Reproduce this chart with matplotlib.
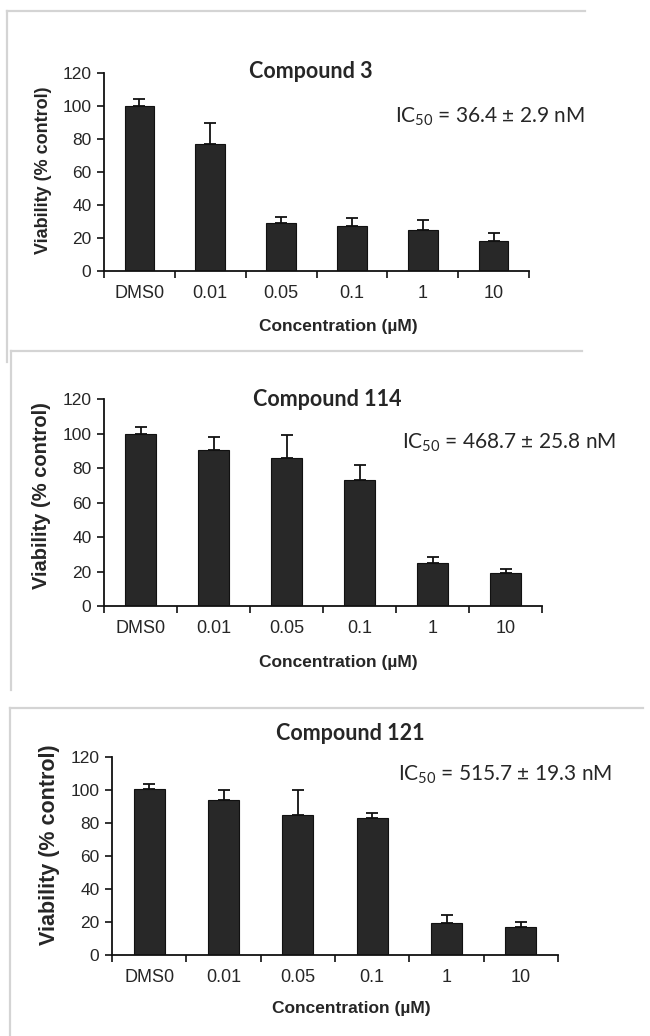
import matplotlib
matplotlib.use("Agg")
import matplotlib.pyplot as plt
from matplotlib.lines import Line2D

W, H = 650, 1036

categories = ["DMS0", "0.01", "0.05", "0.1", "1", "10"]

c3_mean = [100, 76.8, 29, 27, 24.8, 18.4]
c3_err = [4.2, 13.1, 4, 5, 6.1, 4.4]

c114_mean = [100, 90.6, 86, 73, 24.9, 19]
c114_err = [4, 7.2, 13.2, 8.8, 3.5, 2.3]

c121_mean = [100.5, 93.7, 85, 83, 19.6, 17]
c121_err = [3.3, 6.3, 15, 3, 4.8, 3]

titles = ["Compound 3", "Compound 114", "Compound 121"]
ic50_texts = [
    "IC$_{50}$ = 36.4 ± 2.9 nM",
    "IC$_{50}$ = 468.7 ± 25.8 nM",
    "IC$_{50}$ = 515.7 ± 19.3 nM",
]

plt.rcParams["font.family"] = ["Liberation Sans", "DejaVu Sans"]
plt.rcParams["mathtext.fontset"] = "custom"
plt.rcParams["mathtext.rm"] = "Lato"
plt.rcParams["mathtext.it"] = "Lato"
plt.rcParams["mathtext.bf"] = "Lato:bold"

fig = plt.figure(figsize=(W / 100, H / 100), dpi=100)


def fx(x):
    return x / W


def fy(y):
    return 1 - y / H


def px_axes(left, right, top, bottom):
    return fig.add_axes([fx(left), fy(bottom), (right - left) / W, (bottom - top) / H])


# light grey frames around each panel
frame_col = "#d4d4d4"
for (x0, x1, y0, y1) in [(7, 585, 11, 362), (11, 582, 351, 690), (10, 643, 708, 1036)]:
    fig.add_artist(Line2D([fx(x0), fx(x1)], [fy(y0), fy(y0)], color=frame_col, lw=1.6))
    fig.add_artist(Line2D([fx(x0), fx(x0)], [fy(y0), fy(y1)], color=frame_col, lw=1.6))

panels = [
    dict(box=(104, 529, 73, 271), mean=c3_mean, err=c3_err,
         title_xy=(311, 72), ic_xy=(395, 117),
         xl_xy=(338, 327), yl_xy=(43, 170), yl_fs=13),
    dict(box=(104, 542, 399, 606), mean=c114_mean, err=c114_err,
         title_xy=(327, 400), ic_xy=(402, 443),
         xl_xy=(338, 662), yl_xy=(42, 496), yl_fs=14.5),
    dict(box=(112, 558, 757, 955), mean=c121_mean, err=c121_err,
         title_xy=(350, 733), ic_xy=(398, 775),
         xl_xy=(351, 1008), yl_xy=(50, 845), yl_fs=15.5),
]

bar_col = "#282828"
txt_col = "#262626"

for i, p in enumerate(panels):
    ax = px_axes(*p["box"])
    x = list(range(len(categories)))
    ax.bar(x, p["mean"], width=0.42, color=bar_col, edgecolor="#111111", linewidth=0.8, zorder=2)
    ax.errorbar(x, p["mean"], yerr=[[0] * len(x), p["err"]], fmt="none",
                ecolor="#111111", elinewidth=1.3, capsize=4, capthick=1.3, zorder=3)
    ax.set_xlim(-0.5, len(categories) - 0.5)
    ax.set_ylim(0, 120)
    ax.set_yticks(range(0, 121, 20))
    ax.set_xticks([k - 0.5 for k in range(len(categories) + 1)])
    ax.set_xticklabels([])
    ax.set_xticks(x, minor=True)
    ax.set_xticklabels(categories, minor=True)
    ax.tick_params(axis="x", which="major", direction="out", length=5, width=1.2, color="#111111")
    ax.tick_params(axis="x", which="minor", length=0, pad=10, labelsize=13, labelcolor=txt_col)
    ax.tick_params(axis="y", direction="out", length=5, width=1.2, color="#111111",
                   labelsize=12.5, labelcolor=txt_col, pad=4)
    for s in ["top", "right"]:
        ax.spines[s].set_visible(False)
    for s in ["left", "bottom"]:
        ax.spines[s].set_linewidth(1.3)
        ax.spines[s].set_color("#111111")
    ax.patch.set_alpha(0)

    tx, ty = p["title_xy"]
    fig.text(fx(tx), fy(ty), titles[i], ha="center", va="center",
             fontsize=15.5, fontweight="bold", family=["Lato", "DejaVu Sans"], color=txt_col)
    ix, iy = p["ic_xy"]
    fig.text(fx(ix), fy(iy), ic50_texts[i], ha="left", va="center",
             fontsize=15, family=["Lato", "DejaVu Sans"], color=txt_col)
    xx, xy = p["xl_xy"]
    fig.text(fx(xx), fy(xy), "Concentration (\u00b5M)", ha="center", va="center",
             fontsize=12.5, fontweight="bold", color=txt_col)
    yx, yy = p["yl_xy"]
    fig.text(fx(yx), fy(yy), "Viability (% control)", ha="center", va="center",
             rotation=90, fontsize=p["yl_fs"], fontweight="bold", color=txt_col)

fig.savefig("out.png", dpi=100)
